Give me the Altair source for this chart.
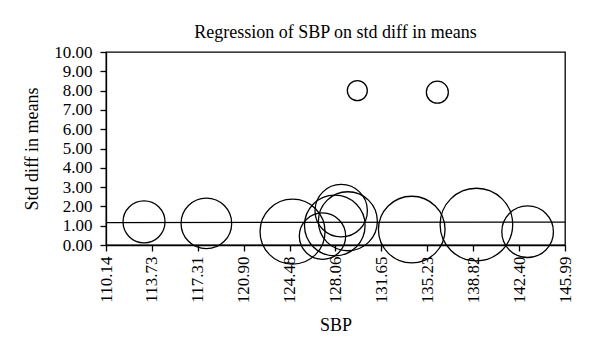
import altair as alt
import pandas as pd

# Study-level points: SBP (x), std diff in means (y), relative weight (bubble area)
sbp = [113.11, 117.98, 124.71, 127.05, 128.51, 129.03, 128.01, 134.02, 139.07, 143.07, 129.77, 136.02]
std_diff = [1.20, 1.12, 0.69, 0.46, 1.78, 1.23, 1.01, 0.80, 1.06, 0.69, 8.00, 7.92]
weight = [4.41, 6.40, 10.56, 5.38, 6.86, 8.70, 9.18, 11.09, 13.18, 6.66, 1.00, 1.21]

# Regression line endpoints
reg_x = [110.14, 145.99]
reg_y = [1.16, 1.19]

x_ticks = [110.14, 113.73, 117.31, 120.90, 124.48, 128.06, 131.65, 135.23, 138.82, 142.40, 145.99]
y_ticks = [0.0, 1.0, 2.0, 3.0, 4.0, 5.0, 6.0, 7.0, 8.0, 9.0, 10.0]

pts = pd.DataFrame({"SBP": sbp, "diff": std_diff, "w": weight})
reg = pd.DataFrame({"SBP": reg_x, "diff": reg_y})

FONT = "Liberation Serif"

xscale = alt.Scale(domain=[110.14, 145.99], nice=False, zero=False)
yscale = alt.Scale(domain=[0, 10], nice=False)

xaxis = alt.Axis(values=x_ticks, format=".2f", labelAngle=-90, title="SBP",
                 labelAlign="right", labelBaseline="middle", labelPadding=5,
                 labelOverlap=False, titlePadding=14)
yaxis = alt.Axis(values=y_ticks, format=".2f", title="Std diff in means",
                 labelPadding=8, labelOverlap=False, titlePadding=12)

line = alt.Chart(reg).mark_line(color="black", strokeWidth=1.3).encode(
    x=alt.X("SBP:Q", scale=xscale, axis=xaxis),
    y=alt.Y("diff:Q", scale=yscale, axis=yaxis),
)

bubbles = alt.Chart(pts).mark_point(
    shape="circle", filled=False, color="black", strokeWidth=1.3, opacity=1
).encode(
    x=alt.X("SBP:Q", scale=xscale, axis=xaxis),
    y=alt.Y("diff:Q", scale=yscale, axis=yaxis),
    size=alt.Size("w:Q", scale=alt.Scale(domain=[0, 14], range=[0, 5600]), legend=None),
)

chart = alt.layer(line, bubbles).properties(
    width=459,
    height=193,
    title=alt.TitleParams("Regression of SBP on std diff in means", font=FONT,
                          fontSize=18, fontWeight="normal", color="black", offset=1),
    autosize=alt.AutoSizeParams(type="none"),
    padding={"left": 106, "top": 52, "right": 35, "bottom": 112},
).configure_view(
    stroke="black", strokeWidth=1.3
).configure_axis(
    grid=False, domain=True, domainColor="black", domainWidth=1.3,
    tickColor="black", tickSize=6, tickWidth=1.3,
    labelFont=FONT, labelFontSize=17, labelColor="black",
    titleFont=FONT, titleFontSize=18, titleFontWeight="normal", titleColor="black",
)

chart.save("out.html", embed_options={"renderer": "svg", "actions": False})
